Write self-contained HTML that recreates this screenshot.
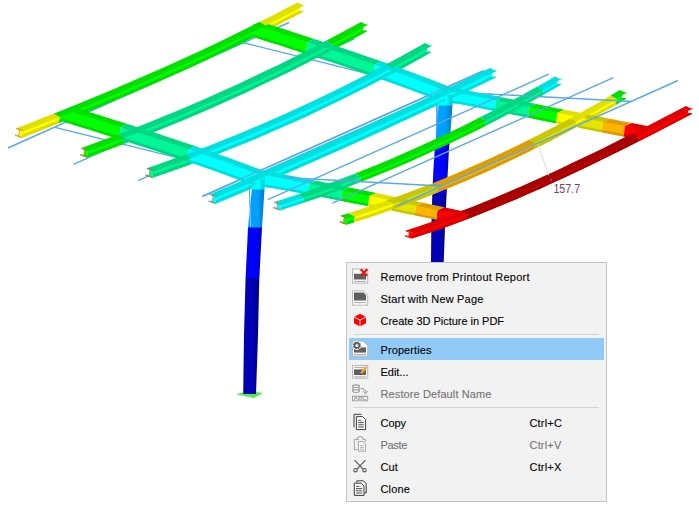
<!DOCTYPE html>
<html><head><meta charset="utf-8"><title>Context menu</title>
<style>
html,body{margin:0;padding:0;background:#fff;}
body{width:699px;height:512px;position:relative;overflow:hidden;font-family:"Liberation Sans",sans-serif;}
.menu{position:absolute;left:346px;top:262px;width:259px;height:238px;background:#f2f2f2;border:1px solid #c3c3c3;}
.hl{position:absolute;left:2px;top:75px;width:255px;height:22px;background:#91c9f7;}
.sep{position:absolute;left:7px;width:245px;height:1px;background:#d4d4d4;}
.ico{position:absolute;left:0;top:0;}
.it{position:absolute;left:33.5px;height:16px;line-height:16px;font-size:11px;color:#060606;white-space:nowrap;-webkit-text-stroke:0.14px #060606;}
.it.sc{left:182.5px;}
.it.dis{color:#747474;-webkit-text-stroke:0.1px #747474;}
</style></head>
<body>
<svg width="699" height="512" viewBox="0 0 699 512" style="position:absolute;left:0;top:0">
<defs>
<linearGradient id="g_cyan" x1="0" x2="1" y1="0" y2="0"><stop offset="0" stop-color="#00f7f7"/><stop offset="0.25" stop-color="#00ffff"/><stop offset="0.6" stop-color="#00ffff"/><stop offset="0.78" stop-color="#00dbdb"/><stop offset="1" stop-color="#00d1d1"/></linearGradient>
<linearGradient id="g_lblue" x1="0" x2="1" y1="0" y2="0"><stop offset="0" stop-color="#009bf7"/><stop offset="0.25" stop-color="#00a0ff"/><stop offset="0.6" stop-color="#00a0ff"/><stop offset="0.78" stop-color="#008adb"/><stop offset="1" stop-color="#0083d1"/></linearGradient>
<linearGradient id="g_blue" x1="0" x2="1" y1="0" y2="0"><stop offset="0" stop-color="#0000f7"/><stop offset="0.25" stop-color="#0000ff"/><stop offset="0.6" stop-color="#0000ff"/><stop offset="0.78" stop-color="#0000db"/><stop offset="1" stop-color="#0000d1"/></linearGradient>
<linearGradient id="g_dblue" x1="0" x2="1" y1="0" y2="0"><stop offset="0" stop-color="#0000af"/><stop offset="0.25" stop-color="#0000b4"/><stop offset="0.6" stop-color="#0000b4"/><stop offset="0.78" stop-color="#00009b"/><stop offset="1" stop-color="#000094"/></linearGradient>
</defs>
<line x1="8.0" y1="148.0" x2="289.0" y2="22.5" stroke="#58a9ea" stroke-width="1.40"/>
<line x1="73.4" y1="164.4" x2="354.4" y2="38.9" stroke="#58a9ea" stroke-width="1.40"/>
<line x1="138.2" y1="180.7" x2="419.2" y2="55.2" stroke="#58a9ea" stroke-width="1.40"/>
<line x1="202.6" y1="196.5" x2="483.6" y2="71.0" stroke="#58a9ea" stroke-width="1.40"/>
<line x1="55.0" y1="127.4" x2="249.6" y2="175.6" stroke="#58a9ea" stroke-width="1.40"/>
<line x1="242.5" y1="42.5" x2="437.1" y2="91.0" stroke="#58a9ea" stroke-width="1.40"/>
<line x1="437.1" y1="91.0" x2="437.5" y2="262.0" stroke="#58a9ea" stroke-width="1.40"/>
<line x1="249.6" y1="175.6" x2="290.0" y2="177.8" stroke="#58a9ea" stroke-width="1.40"/>
<line x1="437.5" y1="91.4" x2="492.0" y2="94.2" stroke="#58a9ea" stroke-width="1.40"/>
<line x1="262.0" y1="171.9" x2="470.0" y2="79.9" stroke="#58a9ea" stroke-width="1.10"/>
<line x1="436.6" y1="92.0" x2="436.6" y2="262.0" stroke="#58a9ea" stroke-width="1.10"/>
<polygon points="438.5,105.0 437.0,126.0 435.3,143.3 449.5,143.3 451.0,126.0 452.5,105.0" fill="url(#g_lblue)"/>
<polygon points="435.4,143.0 434.7,150.0 433.4,170.0 432.3,194.0 432.3,194.3 446.6,194.3 446.6,194.0 447.9,170.0 448.9,150.0 449.5,143.0" fill="url(#g_blue)"/>
<polygon points="432.3,194.0 431.3,230.0 431.0,262.0 443.7,262.0 444.9,230.0 446.6,194.0" fill="url(#g_dblue)"/>
<polygon points="253.6,24.1 267.1,28.4 280.6,32.7 294.0,37.1 307.5,41.4 306.0,53.8 292.5,49.5 279.1,45.1 265.6,40.8 252.1,36.5" fill="#00ff00"/>
<polygon points="252.4,33.9 265.9,38.2 279.4,42.5 292.9,46.9 306.3,51.2 306.0,53.8 292.5,49.5 279.1,45.1 265.6,40.8 252.1,36.5" fill="#00db00"/>
<polygon points="307.5,41.4 321.0,45.8 334.5,50.2 348.0,54.7 361.5,59.3 375.0,64.0 373.5,76.4 360.0,71.7 346.5,67.1 333.0,62.6 319.5,58.2 306.0,53.8" fill="#00f696"/>
<polygon points="306.3,51.2 319.8,55.6 333.3,60.0 346.8,64.6 360.3,69.1 373.8,73.8 373.5,76.4 360.0,71.7 346.5,67.1 333.0,62.6 319.5,58.2 306.0,53.8" fill="#00d481"/>
<polygon points="375.0,64.0 387.1,68.3 399.2,72.7 411.3,77.1 423.4,81.7 435.5,86.4 443.0,89.4 447.6,90.3 459.7,92.7 471.8,95.1 483.9,97.5 496.0,99.9 494.7,110.9 482.6,108.5 470.5,106.1 458.4,103.7 446.1,102.7 441.5,101.8 434.0,98.8 421.9,94.1 409.8,89.5 397.7,85.1 385.6,80.7 373.5,76.4" fill="#00ffff"/>
<polygon points="373.8,73.8 385.9,78.1 398.0,82.5 410.1,86.9 422.2,91.5 434.3,96.2 441.8,99.2 446.4,100.1 458.7,101.4 470.8,103.8 482.9,106.2 495.0,108.7 494.7,110.9 482.6,108.5 470.5,106.1 458.4,103.7 446.1,102.7 441.5,101.8 434.0,98.8 421.9,94.1 409.8,89.5 397.7,85.1 385.6,80.7 373.5,76.4" fill="#00dbdb"/>
<polygon points="496.0,99.9 512.8,103.2 529.5,106.5 528.2,117.6 511.4,114.3 494.7,110.9" fill="#00f696"/>
<polygon points="495.0,108.7 511.7,112.0 528.5,115.3 528.2,117.6 511.4,114.3 494.7,110.9" fill="#00d481"/>
<polygon points="529.5,106.5 543.5,109.3 557.5,112.1 556.2,123.2 542.2,120.4 528.2,117.6" fill="#00ff00"/>
<polygon points="528.5,115.3 542.5,118.1 556.5,120.9 556.2,123.2 542.2,120.4 528.2,117.6" fill="#00db00"/>
<polygon points="557.5,112.1 569.0,114.4 580.5,116.7 579.2,127.8 567.7,125.5 556.2,123.2" fill="#ffff00"/>
<polygon points="556.5,120.9 568.0,123.2 579.5,125.5 579.2,127.8 567.7,125.5 556.2,123.2" fill="#dbdb00"/>
<polygon points="580.5,116.7 591.8,118.9 603.0,121.1 601.7,132.3 590.4,130.0 579.2,127.8" fill="#e4e400"/>
<polygon points="579.5,125.5 590.7,127.7 602.0,129.9 601.7,132.3 590.4,130.0 579.2,127.8" fill="#c4c400"/>
<polygon points="603.0,121.1 614.0,123.3 625.0,125.5 623.7,136.6 612.7,134.4 601.7,132.3" fill="#ffb400"/>
<polygon points="602.0,129.9 613.0,132.1 624.0,134.3 623.7,136.6 612.7,134.4 601.7,132.3" fill="#db9b00"/>
<polygon points="625.0,125.5 637.7,128.0 649.6,130.3 633.4,138.6 623.7,136.6" fill="#ff0000"/>
<polygon points="624.0,134.3 636.6,136.8 636.8,136.9 633.4,138.6 623.7,136.6" fill="#db0000"/>
<polygon points="22.9,130.0 35.3,125.2 47.6,120.3 60.0,115.4 59.1,123.1 46.7,128.0 34.4,132.9 22.0,137.7" fill="#ffff00"/>
<polygon points="22.4,134.3 34.8,129.5 47.2,124.6 59.5,119.7 59.1,123.1 46.7,128.0 34.4,132.9 22.0,137.7" fill="#dbdb00"/>
<polygon points="60.0,115.4 72.1,110.6 84.2,105.7 96.4,100.7 108.5,95.7 120.6,90.6 132.7,85.5 144.8,80.3 156.9,75.0 169.1,69.6 181.2,64.2 193.3,58.7 205.4,53.1 217.5,47.4 229.6,41.6 241.8,35.8 253.9,29.8 266.0,23.8 265.1,31.5 253.0,37.5 240.9,43.5 228.8,49.3 216.6,55.1 204.5,60.8 192.4,66.4 180.3,71.9 168.2,77.3 156.1,82.7 143.9,88.0 131.8,93.2 119.7,98.3 107.6,103.4 95.5,108.4 83.3,113.4 71.2,118.3 59.1,123.1" fill="#00ff00"/>
<polygon points="59.5,119.7 71.7,114.9 83.8,110.0 95.9,105.0 108.0,100.0 120.1,94.9 132.2,89.8 144.4,84.5 156.5,79.3 168.6,73.9 180.7,68.5 192.8,63.0 205.0,57.4 217.1,51.7 229.2,45.9 241.3,40.1 253.4,34.1 265.5,28.1 265.1,31.5 253.0,37.5 240.9,43.5 228.8,49.3 216.6,55.1 204.5,60.8 192.4,66.4 180.3,71.9 168.2,77.3 156.1,82.7 143.9,88.0 131.8,93.2 119.7,98.3 107.6,103.4 95.5,108.4 83.3,113.4 71.2,118.3 59.1,123.1" fill="#00db00"/>
<polygon points="266.0,23.8 278.7,17.4 291.3,10.8 304.0,4.2 303.1,11.9 290.4,18.5 277.8,25.1 265.1,31.5" fill="#ffff00"/>
<polygon points="265.5,28.1 278.2,21.7 290.9,15.1 303.5,8.5 303.1,11.9 290.4,18.5 277.8,25.1 265.1,31.5" fill="#dbdb00"/>
<polygon points="88.0,149.7 100.2,145.3 112.3,140.8 124.5,136.2 123.6,144.0 111.4,148.6 99.3,153.1 87.1,157.5" fill="#00ff00"/>
<polygon points="87.5,154.0 99.7,149.7 111.9,145.2 124.0,140.6 123.6,144.0 111.4,148.6 99.3,153.1 87.1,157.5" fill="#00db00"/>
<polygon points="124.5,136.2 136.7,131.5 149.0,126.7 161.2,121.8 173.4,116.8 185.7,111.7 197.9,106.5 210.1,101.1 222.4,95.7 234.6,90.2 246.9,84.6 259.1,78.8 271.3,73.0 283.6,67.1 295.8,61.1 308.0,54.9 320.3,48.7 332.5,42.4 331.6,50.2 319.4,56.5 307.1,62.7 294.9,68.9 282.7,74.9 270.4,80.8 258.2,86.6 246.0,92.4 233.7,98.0 221.5,103.5 209.2,108.9 197.0,114.3 184.8,119.5 172.5,124.6 160.3,129.6 148.1,134.5 135.8,139.3 123.6,144.0" fill="#00f696"/>
<polygon points="124.0,140.6 136.3,135.9 148.5,131.1 160.7,126.1 173.0,121.1 185.2,116.0 197.4,110.8 209.7,105.5 221.9,100.1 234.1,94.5 246.4,88.9 258.6,83.2 270.9,77.4 283.1,71.4 295.3,65.4 307.6,59.3 319.8,53.0 332.0,46.7 331.6,50.2 319.4,56.5 307.1,62.7 294.9,68.9 282.7,74.9 270.4,80.8 258.2,86.6 246.0,92.4 233.7,98.0 221.5,103.5 209.2,108.9 197.0,114.3 184.8,119.5 172.5,124.6 160.3,129.6 148.1,134.5 135.8,139.3 123.6,144.0" fill="#00d481"/>
<polygon points="332.5,42.4 350.0,33.1 367.5,23.7 366.6,31.5 349.1,40.9 331.6,50.2" fill="#00ff00"/>
<polygon points="332.0,46.7 349.5,37.5 367.0,28.0 366.6,31.5 349.1,40.9 331.6,50.2" fill="#00db00"/>
<polygon points="153.3,169.9 166.4,165.4 179.4,160.8 192.5,156.1 191.6,164.0 178.5,168.7 165.5,173.3 152.4,177.8" fill="#00f696"/>
<polygon points="152.8,174.3 165.9,169.8 179.0,165.2 192.0,160.5 191.6,164.0 178.5,168.7 165.5,173.3 152.4,177.8" fill="#00d481"/>
<polygon points="192.5,156.1 205.0,151.4 217.5,146.6 230.0,141.7 242.5,136.6 255.0,131.5 267.5,126.2 280.0,120.7 292.5,115.2 305.0,109.5 317.5,103.6 330.0,97.7 342.5,91.6 355.0,85.4 367.5,79.1 380.0,72.6 392.5,66.1 391.6,74.0 379.1,80.5 366.6,87.0 354.1,93.3 341.6,99.5 329.1,105.6 316.6,111.5 304.1,117.4 291.6,123.1 279.1,128.6 266.6,134.1 254.1,139.4 241.6,144.5 229.1,149.6 216.6,154.5 204.1,159.3 191.6,164.0" fill="#00ffff"/>
<polygon points="192.0,160.5 204.5,155.8 217.0,151.0 229.5,146.1 242.0,141.0 254.5,135.9 267.0,130.5 279.5,125.1 292.0,119.6 304.5,113.9 317.0,108.0 329.5,102.1 342.0,96.0 354.5,89.8 367.0,83.5 379.5,77.0 392.0,70.5 391.6,74.0 379.1,80.5 366.6,87.0 354.1,93.3 341.6,99.5 329.1,105.6 316.6,111.5 304.1,117.4 291.6,123.1 279.1,128.6 266.6,134.1 254.1,139.4 241.6,144.5 229.1,149.6 216.6,154.5 204.1,159.3 191.6,164.0" fill="#00dbdb"/>
<polygon points="392.5,66.1 405.5,59.1 418.5,52.0 431.5,44.7 430.6,52.6 417.6,59.9 404.6,67.0 391.6,74.0" fill="#00f696"/>
<polygon points="392.0,70.5 405.0,63.5 418.0,56.4 431.0,49.1 430.6,52.6 417.6,59.9 404.6,67.0 391.6,74.0" fill="#00d481"/>
<polygon points="216.5,195.9 228.7,190.7 240.8,185.6 253.0,180.3 265.2,175.1 277.4,169.8 289.5,164.5 301.7,159.2 313.9,153.8 326.1,148.4 338.2,143.0 350.4,137.5 362.6,132.1 374.8,126.5 386.9,121.0 399.1,115.4 411.3,109.8 423.5,104.2 435.6,98.5 447.8,92.8 460.0,87.1 472.2,81.3 484.3,75.5 496.5,69.7 495.6,77.6 483.4,83.4 471.2,89.2 459.1,95.0 446.9,100.7 434.7,106.4 422.5,112.1 410.4,117.7 398.2,123.3 386.0,128.9 373.8,134.4 361.7,140.0 349.5,145.4 337.3,150.9 325.2,156.3 313.0,161.7 300.8,167.1 288.6,172.4 276.5,177.7 264.3,183.0 252.1,188.2 239.9,193.5 227.8,198.6 215.6,203.8" fill="#00ffff"/>
<polygon points="216.0,200.3 228.2,195.1 240.4,190.0 252.5,184.7 264.7,179.5 276.9,174.2 289.1,168.9 301.2,163.6 313.4,158.2 325.6,152.8 337.8,147.4 349.9,141.9 362.1,136.4 374.3,130.9 386.5,125.4 398.6,119.8 410.8,114.2 423.0,108.6 435.2,102.9 447.3,97.2 459.5,91.5 471.7,85.7 483.9,79.9 496.0,74.1 495.6,77.6 483.4,83.4 471.2,89.2 459.1,95.0 446.9,100.7 434.7,106.4 422.5,112.1 410.4,117.7 398.2,123.3 386.0,128.9 373.8,134.4 361.7,140.0 349.5,145.4 337.3,150.9 325.2,156.3 313.0,161.7 300.8,167.1 288.6,172.4 276.5,177.7 264.3,183.0 252.1,188.2 239.9,193.5 227.8,198.6 215.6,203.8" fill="#00dbdb"/>
<polygon points="64.8,109.0 78.8,113.3 92.8,117.7 106.7,122.1 120.7,126.5 119.2,139.1 105.2,134.7 91.2,130.3 77.3,125.9 63.3,121.5" fill="#00ff00"/>
<polygon points="63.6,118.9 77.6,123.3 91.6,127.7 105.6,132.1 119.5,136.5 119.2,139.1 105.2,134.7 91.2,130.3 77.3,125.9 63.3,121.5" fill="#00db00"/>
<polygon points="120.7,126.5 134.3,130.8 147.9,135.2 161.5,139.7 175.1,144.2 188.7,148.7 187.2,161.3 173.6,156.8 160.0,152.3 146.4,147.8 132.8,143.4 119.2,139.1" fill="#00f696"/>
<polygon points="119.5,136.5 133.1,140.8 146.7,145.2 160.3,149.6 173.9,154.1 187.5,158.7 187.2,161.3 173.6,156.8 160.0,152.3 146.4,147.8 132.8,143.4 119.2,139.1" fill="#00d481"/>
<polygon points="188.7,148.7 200.8,152.9 212.9,157.1 224.9,161.5 237.0,165.9 249.1,170.4 255.0,172.7 261.2,173.9 273.3,176.2 285.3,178.5 297.4,180.9 309.5,183.2 308.2,194.6 296.1,192.3 284.0,190.1 271.9,187.9 259.7,186.5 253.5,185.3 247.6,183.0 235.5,178.5 223.4,174.1 211.4,169.7 199.3,165.5 187.2,161.3" fill="#00ffff"/>
<polygon points="187.5,158.7 199.6,162.9 211.7,167.1 223.8,171.4 235.8,175.9 247.9,180.4 253.8,182.7 260.0,183.8 272.2,185.5 284.3,187.7 296.4,189.9 308.5,192.2 308.2,194.6 296.1,192.3 284.0,190.1 271.9,187.9 259.7,186.5 253.5,185.3 247.6,183.0 235.5,178.5 223.4,174.1 211.4,169.7 199.3,165.5 187.2,161.3" fill="#00dbdb"/>
<polygon points="309.5,183.2 326.0,186.5 342.5,189.8 341.2,200.8 324.7,197.6 308.2,194.6" fill="#00f696"/>
<polygon points="308.5,192.2 325.0,195.3 341.5,198.5 341.2,200.8 324.7,197.6 308.2,194.6" fill="#00d481"/>
<polygon points="342.5,189.8 356.0,192.6 369.5,195.4 368.2,206.0 354.7,203.4 341.2,200.8" fill="#00ff00"/>
<polygon points="341.5,198.5 355.0,201.1 368.5,203.8 368.2,206.0 354.7,203.4 341.2,200.8" fill="#00db00"/>
<polygon points="369.5,195.4 381.2,197.8 393.0,200.3 391.8,210.6 380.0,208.3 368.2,206.0" fill="#ffff00"/>
<polygon points="368.5,203.8 380.3,206.1 392.1,208.5 391.8,210.6 380.0,208.3 368.2,206.0" fill="#dbdb00"/>
<polygon points="393.0,200.3 404.5,202.7 416.0,205.1 414.8,215.2 403.3,212.9 391.8,210.6" fill="#e4e400"/>
<polygon points="392.1,208.5 403.6,210.8 415.1,213.1 414.8,215.2 403.3,212.9 391.8,210.6" fill="#c4c400"/>
<polygon points="416.0,205.1 427.0,207.5 438.0,209.9 436.8,219.7 425.8,217.4 414.8,215.2" fill="#ffb400"/>
<polygon points="415.1,213.1 426.1,215.4 437.1,217.7 436.8,219.7 425.8,217.4 414.8,215.2" fill="#db9b00"/>
<polygon points="438.0,209.9 452.3,213.0 462.5,215.3 446.0,221.6 436.8,219.7" fill="#ff0000"/>
<polygon points="437.1,217.7 449.4,220.3 446.0,221.6 436.8,219.7" fill="#db0000"/>
<polygon points="281.0,203.7 292.5,200.0 304.0,196.2 303.2,202.8 291.8,206.6 280.2,210.3" fill="#00ffff"/>
<polygon points="280.6,207.4 292.1,203.7 303.6,199.9 303.2,202.8 291.8,206.6 280.2,210.3" fill="#00dbdb"/>
<polygon points="304.0,196.2 318.2,191.3 332.5,186.2 346.8,181.0 361.0,175.5 360.2,182.1 346.0,187.6 331.8,192.8 317.5,197.9 303.2,202.8" fill="#00f696"/>
<polygon points="303.6,199.9 317.9,195.0 332.1,190.0 346.4,184.7 360.6,179.2 360.2,182.1 346.0,187.6 331.8,192.8 317.5,197.9 303.2,202.8" fill="#00d481"/>
<polygon points="361.0,175.5 373.5,170.5 386.0,165.4 398.5,160.2 411.0,154.8 423.5,149.2 436.0,143.5 448.5,137.7 461.0,131.7 473.5,125.6 486.0,119.3 485.2,125.9 472.8,132.2 460.2,138.3 447.8,144.3 435.2,150.1 422.8,155.8 410.2,161.4 397.8,166.8 385.2,172.0 372.8,177.1 360.2,182.1" fill="#00ff00"/>
<polygon points="360.6,179.2 373.1,174.3 385.6,169.2 398.1,163.9 410.6,158.5 423.1,153.0 435.6,147.3 448.1,141.4 460.6,135.4 473.1,129.3 485.6,123.0 485.2,125.9 472.8,132.2 460.2,138.3 447.8,144.3 435.2,150.1 422.8,155.8 410.2,161.4 397.8,166.8 385.2,172.0 372.8,177.1 360.2,182.1" fill="#00db00"/>
<polygon points="486.0,119.3 500.4,111.9 514.8,104.3 529.1,96.5 543.5,88.5 542.8,95.1 528.4,103.1 514.0,110.9 499.6,118.5 485.2,125.9" fill="#00f696"/>
<polygon points="485.6,123.0 500.0,115.6 514.4,108.0 528.7,100.2 543.1,92.2 542.8,95.1 528.4,103.1 514.0,110.9 499.6,118.5 485.2,125.9" fill="#00d481"/>
<polygon points="543.5,88.5 552.5,83.4 561.5,78.2 560.8,84.8 551.8,90.0 542.8,95.1" fill="#00ffff"/>
<polygon points="543.1,92.2 552.1,87.1 561.1,81.9 560.8,84.8 551.8,90.0 542.8,95.1" fill="#00dbdb"/>
<polygon points="347.5,217.2 351.2,216.0 355.0,214.9 354.1,222.3 350.4,223.4 346.6,224.6" fill="#00ff00"/>
<polygon points="347.1,221.3 350.8,220.2 354.6,219.0 354.1,222.3 350.4,223.4 346.6,224.6" fill="#00db00"/>
<polygon points="355.0,214.9 367.7,210.8 380.3,206.6 393.0,202.2 392.1,209.6 379.5,214.0 366.8,218.2 354.1,222.3" fill="#ffff00"/>
<polygon points="354.6,219.0 367.2,214.9 379.9,210.7 392.6,206.3 392.1,209.6 379.5,214.0 366.8,218.2 354.1,222.3" fill="#dbdb00"/>
<polygon points="393.0,202.2 408.2,196.7 423.3,191.0 438.5,185.1 437.6,192.5 422.5,198.4 407.3,204.1 392.1,209.6" fill="#e4e400"/>
<polygon points="392.6,206.3 407.7,200.9 422.9,195.1 438.1,189.2 437.6,192.5 422.5,198.4 407.3,204.1 392.1,209.6" fill="#c4c400"/>
<polygon points="438.5,185.1 450.6,180.1 462.8,175.1 474.9,169.8 487.0,164.5 499.1,158.9 511.2,153.2 523.4,147.4 535.5,141.4 534.6,148.8 522.5,154.8 510.4,160.6 498.3,166.3 486.1,171.9 474.0,177.2 461.9,182.5 449.8,187.5 437.6,192.5" fill="#ffb400"/>
<polygon points="438.1,189.2 450.2,184.3 462.3,179.2 474.4,174.0 486.6,168.6 498.7,163.1 510.8,157.4 522.9,151.5 535.1,145.6 534.6,148.8 522.5,154.8 510.4,160.6 498.3,166.3 486.1,171.9 474.0,177.2 461.9,182.5 449.8,187.5 437.6,192.5" fill="#db9b00"/>
<polygon points="535.5,141.4 549.2,134.5 562.8,127.4 576.5,120.1 575.6,127.5 562.0,134.8 548.3,141.9 534.6,148.8" fill="#e4e400"/>
<polygon points="535.1,145.6 548.7,138.6 562.4,131.5 576.1,124.2 575.6,127.5 562.0,134.8 548.3,141.9 534.6,148.8" fill="#c4c400"/>
<polygon points="576.5,120.1 590.0,112.7 603.5,105.1 617.0,97.3 616.1,104.7 602.6,112.5 589.1,120.1 575.6,127.5" fill="#ffff00"/>
<polygon points="576.1,124.2 589.6,116.8 603.1,109.2 616.6,101.4 616.1,104.7 602.6,112.5 589.1,120.1 575.6,127.5" fill="#dbdb00"/>
<polygon points="617.0,97.3 621.8,94.5 626.5,91.7 625.6,99.1 620.9,101.9 616.1,104.7" fill="#00ff00"/>
<polygon points="616.6,101.4 621.3,98.6 626.1,95.8 625.6,99.1 620.9,101.9 616.1,104.7" fill="#00db00"/>
<polygon points="412.5,232.2 426.2,227.7 440.0,223.0 453.8,218.0 467.5,212.8 466.8,219.2 453.0,224.4 439.3,229.4 425.5,234.1 411.8,238.6" fill="#ff0000"/>
<polygon points="412.1,235.8 425.9,231.3 439.6,226.6 453.4,221.6 467.1,216.5 466.8,219.2 453.0,224.4 439.3,229.4 425.5,234.1 411.8,238.6" fill="#db0000"/>
<polygon points="467.5,212.8 479.7,208.1 491.9,203.2 504.1,198.1 516.4,193.0 528.6,187.7 540.8,182.3 553.0,176.7 565.2,171.1 577.4,165.3 589.6,159.5 601.9,153.6 614.1,147.6 626.3,141.5 638.5,135.4 637.8,141.8 625.6,147.9 613.3,154.0 601.1,160.0 588.9,165.9 576.7,171.7 564.5,177.5 552.3,183.1 540.1,188.7 527.8,194.1 515.6,199.4 503.4,204.5 491.2,209.6 479.0,214.5 466.8,219.2" fill="#be0000"/>
<polygon points="467.1,216.5 479.3,211.7 491.6,206.8 503.8,201.8 516.0,196.6 528.2,191.3 540.4,185.9 552.6,180.3 564.8,174.7 577.1,169.0 589.3,163.1 601.5,157.2 613.7,151.2 625.9,145.1 638.1,139.0 637.8,141.8 625.6,147.9 613.3,154.0 601.1,160.0 588.9,165.9 576.7,171.7 564.5,177.5 552.3,183.1 540.1,188.7 527.8,194.1 515.6,199.4 503.4,204.5 491.2,209.6 479.0,214.5 466.8,219.2" fill="#a30000"/>
<polygon points="638.5,135.4 652.0,128.6 665.5,121.7 679.0,114.7 692.5,107.7 691.8,114.1 678.3,121.1 664.8,128.1 651.3,135.0 637.8,141.8" fill="#ff0000"/>
<polygon points="638.1,139.0 651.6,132.2 665.1,125.3 678.6,118.3 692.1,111.3 691.8,114.1 678.3,121.1 664.8,128.1 651.3,135.0 637.8,141.8" fill="#db0000"/>
<polygon points="253.6,24.1 265.8,28.0 278.0,31.9 276.5,44.3 264.3,40.4 252.1,36.5" fill="#00ff00"/>
<polygon points="252.4,33.9 264.6,37.8 276.8,41.7 276.5,44.3 264.3,40.4 252.1,36.5" fill="#00db00"/>
<polygon points="260.6,21.7 274.1,26.0 287.6,30.3 301.0,34.7 314.5,39.0 307.5,42.0 294.0,37.7 280.6,33.3 267.1,29.0 253.6,24.7" fill="#00df00"/>
<polygon points="314.5,39.0 328.0,43.4 341.5,47.8 355.0,52.3 368.5,56.9 382.0,61.6 375.0,64.6 361.5,59.9 348.0,55.3 334.5,50.8 321.0,46.4 307.5,42.0" fill="#00d783"/>
<polygon points="382.0,61.6 394.1,65.9 406.2,70.3 418.3,74.7 430.4,79.3 442.5,84.0 450.0,87.0 454.6,87.9 466.7,90.3 478.8,92.7 490.9,95.1 503.0,97.5 496.0,100.5 483.9,98.1 471.8,95.7 459.7,93.3 447.6,90.9 443.0,90.0 435.5,87.0 423.4,82.3 411.3,77.7 399.2,73.3 387.1,68.9 375.0,64.6" fill="#00dfdf"/>
<polygon points="503.0,97.5 519.8,100.8 536.5,104.1 529.5,107.1 512.8,103.8 496.0,100.5" fill="#00d783"/>
<polygon points="536.5,104.1 550.5,106.9 564.5,109.7 557.5,112.7 543.5,109.9 529.5,107.1" fill="#00df00"/>
<polygon points="564.5,109.7 576.0,112.0 587.5,114.2 580.5,117.2 569.0,115.0 557.5,112.7" fill="#dfdf00"/>
<polygon points="587.5,114.2 598.8,116.5 610.0,118.7 603.0,121.7 591.8,119.5 580.5,117.2" fill="#c8c800"/>
<polygon points="610.0,118.7 621.0,120.9 632.0,123.1 625.0,126.1 614.0,123.9 603.0,121.7" fill="#df9e00"/>
<polygon points="632.0,123.1 644.7,125.6 655.0,127.6 648.8,130.8 637.7,128.6 625.0,126.1" fill="#df0000"/>
<polygon points="16.4,128.3 28.8,123.5 41.1,118.6 53.5,113.7 59.9,117.0 47.5,121.9 35.1,126.8 22.8,131.6" fill="#dfdf00"/>
<polygon points="53.5,113.7 65.6,108.9 77.7,104.0 89.9,99.0 102.0,94.0 114.1,88.9 126.2,83.8 138.3,78.6 150.4,73.3 162.6,67.9 174.7,62.5 186.8,57.0 198.9,51.4 211.0,45.7 223.1,39.9 235.3,34.1 247.4,28.1 259.5,22.1 265.9,25.4 253.8,31.4 241.6,37.4 229.5,43.2 217.4,49.0 205.3,54.7 193.2,60.3 181.1,65.8 168.9,71.2 156.8,76.6 144.7,81.9 132.6,87.1 120.5,92.2 108.3,97.3 96.2,102.3 84.1,107.3 72.0,112.2 59.9,117.0" fill="#00df00"/>
<polygon points="259.5,22.1 272.2,15.7 284.8,9.1 297.5,2.5 303.9,5.8 291.2,12.4 278.5,19.0 265.9,25.4" fill="#dfdf00"/>
<polygon points="81.5,148.0 93.7,143.6 105.8,139.1 118.0,134.5 124.4,137.8 112.2,142.4 100.0,146.9 87.9,151.3" fill="#00df00"/>
<polygon points="118.0,134.5 130.2,129.8 142.5,125.0 154.7,120.1 166.9,115.1 179.2,110.0 191.4,104.8 203.6,99.4 215.9,94.0 228.1,88.5 240.4,82.9 252.6,77.1 264.8,71.3 277.1,65.4 289.3,59.4 301.5,53.2 313.8,47.0 326.0,40.7 332.4,44.0 320.1,50.3 307.9,56.5 295.7,62.7 283.4,68.7 271.2,74.6 259.0,80.4 246.7,86.2 234.5,91.8 222.3,97.3 210.0,102.7 197.8,108.1 185.6,113.3 173.3,118.4 161.1,123.4 148.8,128.3 136.6,133.1 124.4,137.8" fill="#00d783"/>
<polygon points="326.0,40.7 343.5,31.4 361.0,22.0 367.4,25.3 349.9,34.7 332.4,44.0" fill="#00df00"/>
<polygon points="146.8,168.2 159.9,163.7 172.9,159.1 186.0,154.4 192.4,157.7 179.3,162.4 166.2,167.0 153.2,171.5" fill="#00d783"/>
<polygon points="186.0,154.4 198.5,149.7 211.0,144.9 223.5,140.0 236.0,134.9 248.5,129.8 261.0,124.5 273.5,119.0 286.0,113.5 298.5,107.8 311.0,101.9 323.5,96.0 336.0,89.9 348.5,83.7 361.0,77.4 373.5,70.9 386.0,64.4 392.4,67.7 379.9,74.2 367.4,80.7 354.9,87.0 342.4,93.2 329.9,99.3 317.4,105.2 304.9,111.1 292.4,116.8 279.9,122.3 267.4,127.8 254.9,133.1 242.4,138.2 229.9,143.3 217.4,148.2 204.9,153.0 192.4,157.7" fill="#00dfdf"/>
<polygon points="386.0,64.4 399.0,57.4 412.0,50.3 425.0,43.0 431.4,46.3 418.4,53.6 405.4,60.7 392.4,67.7" fill="#00d783"/>
<polygon points="210.0,194.2 222.2,189.0 234.3,183.9 246.5,178.6 258.7,173.4 270.9,168.1 283.0,162.8 295.2,157.5 307.4,152.1 319.6,146.7 331.7,141.3 343.9,135.8 356.1,130.4 368.3,124.8 380.4,119.3 392.6,113.7 404.8,108.1 417.0,102.5 429.1,96.8 441.3,91.1 453.5,85.4 465.7,79.6 477.8,73.8 490.0,68.0 496.4,71.3 484.2,77.1 472.0,82.9 459.9,88.7 447.7,94.4 435.5,100.1 423.3,105.8 411.2,111.4 399.0,117.0 386.8,122.6 374.6,128.1 362.5,133.7 350.3,139.1 338.1,144.6 325.9,150.0 313.8,155.4 301.6,160.8 289.4,166.1 277.2,171.4 265.1,176.7 252.9,181.9 240.7,187.2 228.5,192.3 216.4,197.5" fill="#00dfdf"/>
<polygon points="71.8,106.5 85.8,110.9 99.8,115.3 113.7,119.7 127.7,124.1 120.7,127.1 106.7,122.7 92.8,118.3 78.8,113.9 64.8,109.5" fill="#00df00"/>
<polygon points="127.7,124.1 141.3,128.4 154.9,132.8 168.5,137.3 182.1,141.8 195.7,146.3 188.7,149.3 175.1,144.8 161.5,140.3 147.9,135.8 134.3,131.4 120.7,127.1" fill="#00d783"/>
<polygon points="195.7,146.3 207.8,150.5 219.9,154.7 231.9,159.1 244.0,163.5 256.1,168.0 262.0,170.3 268.2,171.5 280.3,173.8 292.3,176.1 304.4,178.5 316.5,180.8 309.5,183.8 297.4,181.5 285.3,179.1 273.3,176.8 261.2,174.5 255.0,173.3 249.1,171.0 237.0,166.5 224.9,162.1 212.9,157.7 200.8,153.5 188.7,149.3" fill="#00dfdf"/>
<polygon points="316.5,180.8 333.0,184.1 349.5,187.4 342.5,190.4 326.0,187.1 309.5,183.8" fill="#00d783"/>
<polygon points="349.5,187.4 363.0,190.2 376.5,193.0 369.5,196.0 356.0,193.2 342.5,190.4" fill="#00df00"/>
<polygon points="376.5,193.0 388.2,195.4 400.0,197.9 393.0,200.9 381.2,198.4 369.5,196.0" fill="#dfdf00"/>
<polygon points="400.0,197.9 411.5,200.3 423.0,202.7 416.0,205.7 404.5,203.3 393.0,200.9" fill="#c8c800"/>
<polygon points="423.0,202.7 434.0,205.1 445.0,207.5 438.0,210.5 427.0,208.1 416.0,205.7" fill="#df9e00"/>
<polygon points="445.0,207.5 459.3,210.6 469.0,212.8 461.5,215.7 452.3,213.6 438.0,210.5" fill="#df0000"/>
<polygon points="274.5,202.0 286.0,198.3 297.5,194.5 303.9,197.8 292.4,201.6 280.9,205.3" fill="#00dfdf"/>
<polygon points="297.5,194.5 311.8,189.6 326.0,184.5 340.2,179.3 354.5,173.8 360.9,177.1 346.6,182.6 332.4,187.8 318.1,192.9 303.9,197.8" fill="#00d783"/>
<polygon points="354.5,173.8 367.0,168.8 379.5,163.7 392.0,158.5 404.5,153.1 417.0,147.5 429.5,141.8 442.0,136.0 454.5,130.0 467.0,123.9 479.5,117.6 485.9,120.9 473.4,127.2 460.9,133.3 448.4,139.3 435.9,145.1 423.4,150.8 410.9,156.4 398.4,161.8 385.9,167.0 373.4,172.1 360.9,177.1" fill="#00df00"/>
<polygon points="479.5,117.6 493.9,110.2 508.2,102.6 522.6,94.8 537.0,86.8 543.4,90.1 529.0,98.1 514.6,105.9 500.2,113.5 485.9,120.9" fill="#00d783"/>
<polygon points="537.0,86.8 546.0,81.7 555.0,76.5 561.4,79.8 552.4,85.0 543.4,90.1" fill="#00dfdf"/>
<polygon points="341.0,215.5 344.8,214.3 348.5,213.2 354.9,216.5 351.1,217.6 347.4,218.8" fill="#00df00"/>
<polygon points="348.5,213.2 361.2,209.1 373.8,204.9 386.5,200.5 392.9,203.8 380.2,208.2 367.5,212.4 354.9,216.5" fill="#dfdf00"/>
<polygon points="386.5,200.5 401.7,195.0 416.8,189.3 432.0,183.4 438.4,186.7 423.2,192.6 408.0,198.3 392.9,203.8" fill="#c8c800"/>
<polygon points="432.0,183.4 444.1,178.4 456.2,173.4 468.4,168.1 480.5,162.8 492.6,157.2 504.8,151.5 516.9,145.7 529.0,139.7 535.4,143.0 523.2,149.0 511.1,154.8 499.0,160.5 486.9,166.1 474.8,171.4 462.6,176.7 450.5,181.7 438.4,186.7" fill="#df9e00"/>
<polygon points="529.0,139.7 542.7,132.8 556.3,125.7 570.0,118.4 576.4,121.7 562.7,129.0 549.0,136.1 535.4,143.0" fill="#c8c800"/>
<polygon points="570.0,118.4 583.5,111.0 597.0,103.4 610.5,95.6 616.9,98.9 603.4,106.7 589.9,114.3 576.4,121.7" fill="#dfdf00"/>
<polygon points="610.5,95.6 615.2,92.8 620.0,90.0 626.4,93.3 621.6,96.1 616.9,98.9" fill="#00df00"/>
<polygon points="406.0,230.5 419.8,226.0 433.5,221.3 447.2,216.3 461.0,211.1 467.4,214.4 453.6,219.6 439.9,224.6 426.1,229.3 412.4,233.8" fill="#df0000"/>
<polygon points="461.0,211.1 473.2,206.4 485.4,201.5 497.6,196.4 509.9,191.3 522.1,186.0 534.3,180.6 546.5,175.0 558.7,169.4 570.9,163.6 583.1,157.8 595.4,151.9 607.6,145.9 619.8,139.8 632.0,133.7 638.4,137.0 626.2,143.1 613.9,149.2 601.7,155.2 589.5,161.1 577.3,166.9 565.1,172.7 552.9,178.3 540.7,183.9 528.4,189.3 516.2,194.6 504.0,199.7 491.8,204.8 479.6,209.7 467.4,214.4" fill="#a60000"/>
<polygon points="632.0,133.7 645.5,126.9 659.0,120.0 672.5,113.0 686.0,106.0 692.4,109.3 678.9,116.3 665.4,123.3 651.9,130.2 638.4,137.0" fill="#df0000"/>
<polygon points="19.6,129.7 22.9,130.6 22.0,137.2 18.6,136.6" fill="#ffff00"/>
<polygon points="15.2,135.3 22.0,137.7 22.1,136.4 15.3,134.2" fill="#e6e600"/>
<polygon points="16.4,128.3 22.9,130.6 22.8,131.5 16.3,129.2" fill="#e6e600"/>
<path d="M16.4 128.3L22.9 130.6M19.6 129.7L18.6 136.6M15.2 135.3L22.0 137.7" fill="none" stroke="#ee5a22" stroke-width="0.75" stroke-linecap="round" opacity="0.85"/>
<polygon points="84.7,149.4 88.0,150.3 87.1,157.0 83.7,156.4" fill="#00ff00"/>
<polygon points="80.3,155.1 87.1,157.5 87.2,156.2 80.4,154.0" fill="#00e600"/>
<polygon points="81.5,148.0 88.0,150.3 87.9,151.2 81.4,148.9" fill="#00e600"/>
<path d="M81.5 148.0L88.0 150.3M84.7 149.4L83.7 156.4M80.3 155.1L87.1 157.5" fill="none" stroke="#ee5a22" stroke-width="0.75" stroke-linecap="round" opacity="0.85"/>
<polygon points="150.0,169.6 153.3,170.5 152.4,177.3 149.0,176.7" fill="#00f696"/>
<polygon points="145.6,175.4 152.4,177.8 152.5,176.5 145.7,174.3" fill="#00dd87"/>
<polygon points="146.8,168.2 153.3,170.5 153.2,171.4 146.7,169.1" fill="#00dd87"/>
<path d="M146.8 168.2L153.3 170.5M150.0 169.6L149.0 176.7M145.6 175.4L152.4 177.8" fill="none" stroke="#ee5a22" stroke-width="0.75" stroke-linecap="round" opacity="0.85"/>
<polygon points="213.2,195.6 216.5,196.5 215.6,203.3 212.2,202.7" fill="#00ffff"/>
<polygon points="208.8,201.4 215.6,203.8 215.7,202.5 208.9,200.3" fill="#00e6e6"/>
<polygon points="210.0,194.2 216.5,196.5 216.4,197.4 209.9,195.1" fill="#00e6e6"/>
<path d="M210.0 194.2L216.5 196.5M213.2 195.6L212.2 202.7M208.8 201.4L215.6 203.8" fill="none" stroke="#ee5a22" stroke-width="0.75" stroke-linecap="round" opacity="0.85"/>
<polygon points="277.7,203.4 281.0,204.3 280.2,209.8 276.8,209.2" fill="#00ffff"/>
<polygon points="273.4,207.9 280.2,210.3 280.4,209.0 273.6,206.8" fill="#00e6e6"/>
<polygon points="274.5,202.0 281.0,204.3 280.9,205.2 274.4,202.9" fill="#00e6e6"/>
<path d="M274.5 202.0L281.0 204.3M277.7 203.4L276.8 209.2M273.4 207.9L280.2 210.3" fill="none" stroke="#ee5a22" stroke-width="0.75" stroke-linecap="round" opacity="0.85"/>
<polygon points="344.2,216.9 347.5,217.8 346.6,224.1 343.2,223.5" fill="#00ff00"/>
<polygon points="339.8,222.2 346.6,224.6 346.8,223.3 339.9,221.1" fill="#00e600"/>
<polygon points="341.0,215.5 347.5,217.8 347.4,218.7 340.9,216.4" fill="#00e600"/>
<path d="M341.0 215.5L347.5 217.8M344.2 216.9L343.2 223.5M339.8 222.2L346.6 224.6" fill="none" stroke="#ee5a22" stroke-width="0.75" stroke-linecap="round" opacity="0.85"/>
<polygon points="409.2,231.9 412.5,232.8 411.8,238.1 408.4,237.5" fill="#ff0000"/>
<polygon points="405.0,236.2 411.8,238.6 411.9,237.3 405.1,235.1" fill="#e60000"/>
<polygon points="406.0,230.5 412.5,232.8 412.4,233.7 405.9,231.4" fill="#e60000"/>
<path d="M406.0 230.5L412.5 232.8M409.2 231.9L408.4 237.5M405.0 236.2L411.8 238.6" fill="none" stroke="#ee5a22" stroke-width="0.75" stroke-linecap="round" opacity="0.85"/>
<polygon points="303.8,5.8 299.8,7.7 299.3,10.7 303.2,10.8 305.5,8.8" fill="#ffffff"/>
<polygon points="367.3,25.3 363.3,27.2 362.8,30.3 366.7,30.4 369.0,28.4" fill="#ffffff"/>
<polygon points="431.3,46.3 427.3,48.3 426.8,51.4 430.7,51.5 433.0,49.4" fill="#ffffff"/>
<polygon points="496.3,71.3 492.3,73.3 491.8,76.4 495.7,76.5 498.0,74.4" fill="#ffffff"/>
<polygon points="561.3,79.6 557.3,81.3 556.8,83.8 560.7,83.7 563.0,82.2" fill="#ffffff"/>
<polygon points="626.3,93.3 622.3,95.1 621.8,98.0 625.7,98.0 628.0,96.1" fill="#ffffff"/>
<polygon points="692.3,109.1 688.3,110.7 687.8,113.1 691.7,113.0 694.0,111.6" fill="#ffffff"/>
<polygon points="445.0,95.0 451.8,95.0 452.6,102.0 452.5,105.6 438.5,105.6 438.6,102.4 445.0,101.2" fill="url(#g_cyan)"/>
<polygon points="258.6,179.3 264.7,179.3 264.5,190.5 251.8,190.5 251.8,186.0 258.6,183.2" fill="url(#g_cyan)"/>
<polygon points="251.8,189.4 264.5,189.4 262.0,228.0 248.0,228.0" fill="url(#g_lblue)"/>
<polygon points="248.0,227.5 262.0,227.5 259.3,278.5 245.6,278.5" fill="url(#g_blue)"/>
<polygon points="245.6,278.0 259.3,278.0 258.0,335.0 256.0,394.0 243.2,394.0 244.0,335.0" fill="url(#g_dblue)"/>
<polygon points="235.8,394.3 243.2,392.6 243.2,394.0 256.0,394.0 256.0,392.0 263.0,393.0 254.0,398.0" fill="#4cf04c"/>
<line x1="249.5" y1="187.0" x2="249.9" y2="207.0" stroke="#58a9ea" stroke-width="1.10"/>
<line x1="249.9" y1="207.0" x2="250.6" y2="227.0" stroke="#9fd0ff" stroke-width="0.90"/>
<line x1="202.6" y1="196.0" x2="483.6" y2="70.5" stroke="#58a9ea" stroke-width="1.15"/>
<line x1="267.8" y1="199.7" x2="548.8" y2="74.2" stroke="#58a9ea" stroke-width="1.40"/>
<line x1="332.4" y1="203.1" x2="613.4" y2="77.6" stroke="#58a9ea" stroke-width="1.40"/>
<line x1="397.0" y1="206.0" x2="678.0" y2="80.5" stroke="#58a9ea" stroke-width="1.40"/>
<line x1="284.0" y1="177.5" x2="441.0" y2="186.0" stroke="#58a9ea" stroke-width="1.40"/>
<line x1="488.0" y1="94.0" x2="632.0" y2="101.5" stroke="#58a9ea" stroke-width="1.40"/>
<line x1="538.0" y1="144.0" x2="548.7" y2="175.5" stroke="#cfcfcf" stroke-width="0.80"/>
<line x1="551.0" y1="178.3" x2="551.0" y2="181.6" stroke="#7a6aa8" stroke-width="1.00"/>
<text x="553.4" y="192.8" font-family="'Liberation Sans', sans-serif" font-size="12.3" textLength="26.8" lengthAdjust="spacingAndGlyphs" fill="#7c4068">157.7</text>
</svg>
<div class="menu">
<div class="hl"></div>
<div class="sep" style="top:71px"></div>
<div class="sep" style="top:144px"></div>
<svg class="ico" width="30" height="238" viewBox="347 263 30 238">
<rect x="352.5" y="269.0" width="15.2" height="14.2" fill="#fbfbfb" stroke="#b9b9b9" stroke-width="1"/>
<rect x="354" y="273.8" width="12" height="5.7" fill="#5f5f5f"/>
<path d="M354 281.4H366" stroke="#a8a8a8" stroke-width="1"/>
<path d="M360.6 269.2L367.3 275.8M367.3 269.2L360.6 275.8" stroke="#ee1111" stroke-width="2.1"/>
<path d="M352.5 290.8H363.5L367.7 295.0V305.2H352.5Z" fill="#fbfbfb" stroke="#b9b9b9" stroke-width="1"/>
<path d="M354 292.4H363.4L366 295V300.6H354Z" fill="#5f5f5f"/>
<path d="M354 302.6H366" stroke="#a8a8a8" stroke-width="1"/>
<path d="M360 313.7L366 317V323.2L360 326.5L354 323.2V317Z" fill="#ff0000"/>
<path d="M354 317L360 320.1L366 317M360 320.1V326.5" stroke="#f4f4f4" stroke-width="0.9" fill="none"/>
<path d="M352.5 341.2H363.5L367.7 345.4V356.2H352.5Z" fill="#fbfbfb" stroke="#b9b9b9" stroke-width="1"/>
<path d="M354 347.4H366V352.6H354Z" fill="#5f5f5f"/>
<path d="M354 354.6H366" stroke="#a8a8a8" stroke-width="1"/>
<circle cx="356.9" cy="345.4" r="4.6" fill="#f4f4f4"/>
<circle cx="356.9" cy="345.4" r="3.2" fill="#5f5f5f" stroke="#5f5f5f" stroke-width="1.5" stroke-dasharray="1.5 1.01"/>
<circle cx="356.9" cy="345.4" r="1.5" fill="#f6f6f6"/>
<rect x="352.5" y="365.4" width="15.2" height="12.8" fill="#fbfbfb" stroke="#b9b9b9" stroke-width="1"/>
<path d="M354 367.4H366" stroke="#a8a8a8" stroke-width="1"/>
<rect x="354" y="369.4" width="12" height="5.6" fill="#5f5f5f"/>
<path d="M354 376.9H366" stroke="#a8a8a8" stroke-width="1"/>
<path d="M360.2 372.4L365.4 366.4L367.2 368L362 374Z" fill="#f4a81c"/>
<path d="M365.4 366.4L366.7 364.9L368.5 366.5L367.2 368Z" fill="#e9a6d2"/>
<path d="M360.2 372.4L362 374L359.6 374.9Z" fill="#d03a1a"/>
<ellipse cx="356" cy="386.3" rx="3.4" ry="1.4" fill="#f4f4f4" stroke="#989898" stroke-width="1.1"/>
<ellipse cx="356" cy="388.7" rx="3.4" ry="1.4" fill="#f4f4f4" stroke="#989898" stroke-width="1.1"/>
<ellipse cx="356" cy="391.1" rx="3.4" ry="1.4" fill="#f4f4f4" stroke="#989898" stroke-width="1.1"/>
<path d="M360.6 388.4Q365.2 388 365.6 392.6M363.4 391.3L365.7 393.8L367.7 391" stroke="#989898" stroke-width="1" fill="none"/>
<rect x="352.5" y="396.2" width="15.2" height="4.6" fill="#f8f8f8" stroke="#989898" stroke-width="0.9"/>
<text x="353.6" y="400.3" font-family="'Liberation Sans',sans-serif" font-size="4.6" font-weight="bold" textLength="13" lengthAdjust="spacingAndGlyphs" fill="#989898">ABC</text>
<path d="M361.5 414.3H354V427.4" stroke="#3c3c3c" stroke-width="1" fill="none"/>
<path d="M356.4 416.6H362.6L365.6 419.6V429.6H356.4Z" fill="#fafafa" stroke="#3c3c3c" stroke-width="1"/>
<path d="M358.2 420.4H361.4M358.2 422.6H363.8M358.2 424.8H363.8M358.2 427H363.8" stroke="#3c3c3c" stroke-width="0.9"/>
<path d="M358.6 439.4H354.4V449.6H357.6" stroke="#a3a3a3" stroke-width="1" fill="none"/>
<path d="M357.4 439.8V437.6H359V436.6H361.4V437.6H363V439.8" stroke="#a3a3a3" stroke-width="1" fill="none"/>
<path d="M363 439.4H365.4V441.8" stroke="#a3a3a3" stroke-width="1" fill="none"/>
<path d="M358.4 441.6H363.2L365.6 444V451.2H358.4Z" fill="#f8f8f8" stroke="#a3a3a3" stroke-width="1"/>
<path d="M360 445.4H364M360 447.4H364M360 449.2H364" stroke="#a3a3a3" stroke-width="0.8"/>
<path d="M354.6 460.2L363.3 469.4M365.4 460.2L356.7 469.4" stroke="#595959" stroke-width="1.2" fill="none"/>
<circle cx="355.5" cy="470.2" r="1.7" fill="none" stroke="#595959" stroke-width="1.1"/>
<circle cx="364.5" cy="470.2" r="1.7" fill="none" stroke="#595959" stroke-width="1.1"/>
<path d="M356.8 482.6V480.8H363.4L366.2 483.6V493H364.4" stroke="#3c3c3c" stroke-width="1" fill="none"/>
<path d="M354.3 483.2H361.2L364 486V495.4H354.3Z" fill="#fafafa" stroke="#3c3c3c" stroke-width="1"/>
<path d="M356 486.4H359.4M356 488.6H362.2M356 490.8H362.2M356 493H362.2" stroke="#3c3c3c" stroke-width="0.9"/>
</svg>
<div class="it" style="top:5.79px;letter-spacing:0.227px">Remove from Printout Report</div>
<div class="it" style="top:27.69px;letter-spacing:0.176px">Start with New Page</div>
<div class="it" style="top:49.69px;letter-spacing:-0.025px">Create 3D Picture in PDF</div>
<div class="it" style="top:79.09px;letter-spacing:0.086px">Properties</div>
<div class="it" style="top:100.89px;letter-spacing:-0.017px">Edit...</div>
<div class="it dis" style="top:122.89px;letter-spacing:0.109px">Restore Default Name</div>
<div class="it" style="top:151.69px;letter-spacing:-0.048px">Copy</div>
<div class="it sc" style="top:151.69px;letter-spacing:0.170px">Ctrl+C</div>
<div class="it dis" style="top:173.59px;letter-spacing:-0.328px">Paste</div>
<div class="it dis sc" style="top:173.59px;letter-spacing:0.187px">Ctrl+V</div>
<div class="it" style="top:195.59px;letter-spacing:0.127px">Cut</div>
<div class="it sc" style="top:195.59px;letter-spacing:0.187px">Ctrl+X</div>
<div class="it" style="top:217.69px;letter-spacing:0.150px">Clone</div>
</div>
</body></html>
